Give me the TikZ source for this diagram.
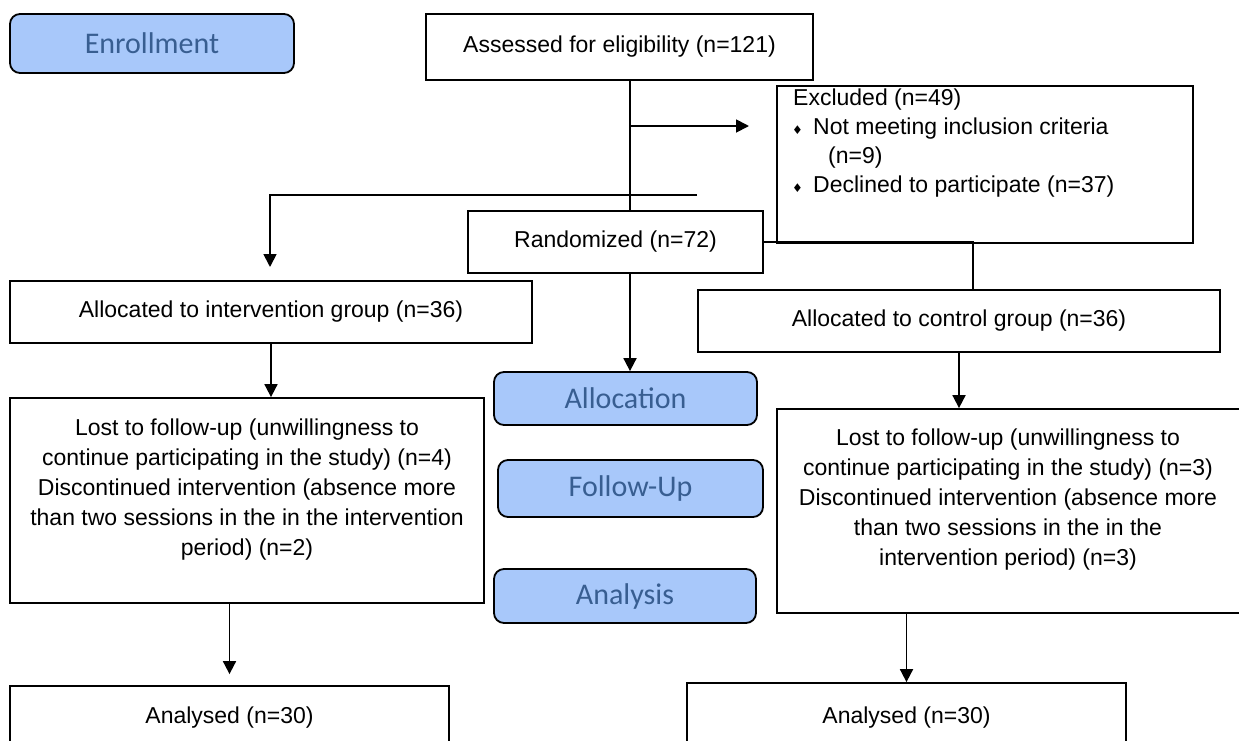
\documentclass[tikz,border=0pt]{standalone}
\usepackage{fontspec}
\setmainfont{Liberation Sans}
\newfontfamily\calib{Carlito}
\newfontfamily\dejavu{DejaVu Sans}
\usetikzlibrary{arrows.meta}
\definecolor{phasefill}{RGB}{168,200,250}
\definecolor{phasetext}{RGB}{56,94,145}
\newcommand{\bul}{{\dejavu\fontsize{12}{12}\selectfont\char"2666}}
\tikzset{
  box/.style={draw, line width=1.8pt, inner sep=0pt, align=center,
    font=\fontsize{23}{30}\selectfont},
  phase/.style={draw, line width=1.8pt, fill=phasefill, rounded corners=10pt,
    inner sep=0pt, text=phasetext, font=\calib\fontsize{30}{36}\selectfont},
  txt/.style={inner sep=0pt, align=center, font=\fontsize{23}{30}\selectfont},
  exl/.style={inner sep=0pt, anchor=base west, font=\fontsize{23}{30}\selectfont},
  arr/.style={line width=1.8pt, -{Triangle[length=13pt,width=13pt]}},
  con/.style={line width=1.8pt}
}
\begin{document}
\begin{tikzpicture}[x=1pt,y=-1pt]
\useasboundingbox (0,0) rectangle (1239,740);
\clip (0,0) rectangle (1239,740);
\fill[white] (0,0) rectangle (1239,740);

% phase boxes
\node[phase, minimum width=284pt, minimum height=59pt] (enroll) at (152,43.5) {Enrollment};
\node[phase, minimum width=263pt, minimum height=53pt] (alloc) at (625.5,398.5) {Allocation};
\node[phase, minimum width=265pt, minimum height=57pt] (follow) at (630.5,488.5) {Follow-Up};
\node[phase, minimum width=262pt, minimum height=54pt] (analysis) at (625,596) {Analysis};

% flow boxes
\node[box, minimum width=387pt, minimum height=66pt] (assess) at (619.5,47) {Assessed for eligibility (n=121)};
\node[box, minimum width=295pt, minimum height=62pt] (rand) at (615.5,242) {Randomized (n=72)};
\node[box, minimum width=416pt, minimum height=157pt, fill=white] (excl) at (985,164.5) {};
\node[exl] (ex1) at (793,105) {Excluded (n=49)};
\node[exl] (exb1) at (792,134) {\bul};
\node[exl] (ex2) at (813,134) {Not meeting inclusion criteria};
\node[exl] (ex3) at (828,163) {(n=9)};
\node[exl] (exb2) at (792,192) {\bul};
\node[exl] (ex4) at (813,192) {Declined to participate (n=37)};

\node[box, minimum width=522pt, minimum height=62pt] (allocI) at (271,312) {Allocated to intervention group (n=36)};
\node[box, minimum width=522pt, minimum height=62pt] (allocC) at (959,321) {Allocated to control group (n=36)};

\node[box, minimum width=474pt, minimum height=205pt] (lossL) at (247,500.5) {};
\node[txt] (lossLt) at (247,490) {Lost to follow-up (unwillingness to\\continue participating in the study) (n=4)\\Discontinued intervention (absence more\\than two sessions in the in the intervention\\period) (n=2)};
\node[box, minimum width=463pt, minimum height=204pt] (lossR) at (1008.5,511) {};
\node[txt] (lossRt) at (1008,499.5) {Lost to follow-up (unwillingness to\\continue participating in the study) (n=3)\\Discontinued intervention (absence more\\than two sessions in the in the\\intervention period) (n=3)};

\node[box, minimum width=439pt, minimum height=74pt] (anaL) at (229.5,723) {};
\node[txt] (anaLt) at (229.5,718) {Analysed (n=30)};
\node[box, minimum width=439pt, minimum height=77pt] (anaR) at (906.5,721.5) {};
\node[txt] (anaRt) at (906.5,718) {Analysed (n=30)};

% connectors
\coordinate (spine) at (630,0);
\coordinate (exA) at (630,126);
\coordinate (exB) at (749,126);
\coordinate (splitR) at (697,195);
\coordinate (splitL) at (270,195);
\coordinate (tipI) at (270,267);
\coordinate (cjoin) at (973,242);

\draw[con] (assess.south -| spine) -- (rand.north -| spine);
\draw[arr] (exA) -- (exB);
\draw[arr] (splitR) -- (splitL) -- (tipI);
\draw[con] (rand.east) -- (cjoin) -- (allocC.north -| cjoin);
\draw[arr] (rand.south -| spine) -- (alloc.north -| spine);
\draw[arr] (allocI.south) -- (allocI.south |- lossL.north);
\draw[arr] (allocC.south) -- (allocC.south |- lossR.north);
\draw[arr] (lossL.south -| anaL.north) -- ([yshift=11pt]anaL.north);
\draw[arr] (lossR.south -| anaR.north) -- (anaR.north);
\end{tikzpicture}
\end{document}
